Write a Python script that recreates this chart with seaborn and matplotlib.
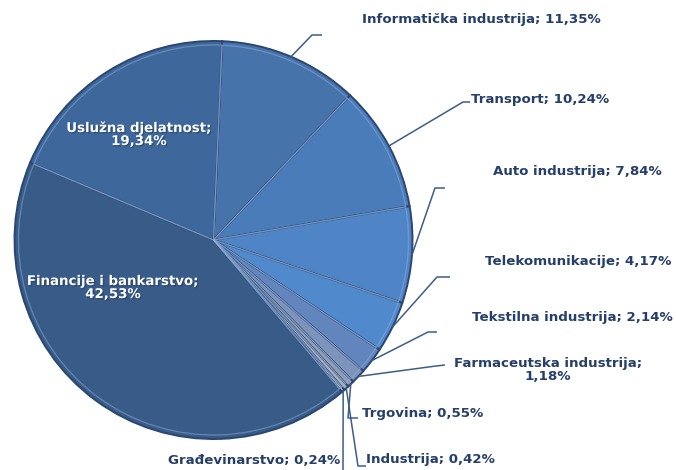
import matplotlib
matplotlib.use("Agg")
import matplotlib.pyplot as plt
import matplotlib.patheffects as pe
import seaborn as sns
import numpy as np

# data (shares in %)
sectors = [
    "Informatička industrija", "Transport", "Auto industrija", "Telekomunikacije",
    "Tekstilna industrija", "Farmaceutska industrija", "Trgovina", "Industrija",
    "Građevinarstvo", "Financije i bankarstvo", "Uslužna djelatnost",
]
shares = [11.35, 10.24, 7.84, 4.17, 2.14, 1.18, 0.55, 0.42, 0.24, 42.53, 19.34]
colors = ["#4773ab", "#4a7cba", "#4f84c6", "#5189cd", "#6285bd", "#7d93b9",
          "#909cb2", "#a7adb9", "#dde1e8", "#395b88", "#3e679b"]

sns.set_theme(style="white")
plt.rcParams["font.family"] = ["DejaVu Sans"]

W, H = 676, 470
fig = plt.figure(figsize=(W / 100, H / 100), dpi=100)
ax = fig.add_axes([0, 0, 1, 1])

def P(x, y):
    # pixel position (from top-left) -> axes data coords
    return x, H - y

cx, cy = P(213.5, 240)
R = 199
start = 87.5

wedges, _ = ax.pie(shares, colors=colors, startangle=start, counterclock=False,
                   radius=R, center=(cx, cy),
                   wedgeprops=dict(edgecolor="#2b4670", linewidth=1.4))
# light inner rim to mimic the bevel
ax.pie(shares, colors=["none"] * len(shares), startangle=start, counterclock=False,
       radius=R - 4, center=(cx, cy),
       wedgeprops=dict(edgecolor="#8fb0dc", linewidth=0.9, alpha=0.5))

ax.set_xlim(0, W)
ax.set_ylim(0, H)
ax.set_aspect("equal")
ax.set_axis_off()

def fmt(v):
    return f"{v:.2f}".replace(".", ",")

# mid angle of each wedge
cum = np.cumsum([0] + shares[:-1])
mids = [start - (c + s / 2) / 100 * 360 for c, s in zip(cum, shares)]

txt_col = "#263f6a"
line_col = "#3d5d88"

# outside labels: leader elbow points and text anchor (pixels)
outside = {
    0: ([(312, 35), (322, 35)], (362, 19), "left"),
    1: ([(463, 102), (470, 102)], (471, 100), "left"),
    2: ([(435, 188), (445, 188)], (493, 172), "left"),
    3: ([(437, 277), (450, 277)], (485, 262), "left"),
    4: ([(428, 332), (437, 332)], (472, 317), "left"),
    5: ([(436, 366), (445, 365)], (548, 370), "center"),
    6: ([(348, 418), (358, 418)], (362, 413), "left"),
    7: ([(358, 466), (366, 466)], (366, 460), "left"),
    8: ([(343, 470)], (340, 461), "right"),
}

for i, (pts, tpos, ha) in outside.items():
    a = np.deg2rad(mids[i])
    sx, sy = cx + R * np.cos(a), cy + R * np.sin(a)
    xs = [sx] + [P(*p)[0] for p in pts]
    ys = [sy] + [P(*p)[1] for p in pts]
    ax.plot(xs, ys, color=line_col, lw=1.1, clip_on=False, solid_capstyle="butt")
    if i == 5:
        label = f"{sectors[i]};\n{fmt(shares[i])}%"
    else:
        label = f"{sectors[i]}; {fmt(shares[i])}%"
    ax.text(*P(*tpos), label, ha=ha, va="center", fontsize=9.6, fontweight="bold",
            color=txt_col, linespacing=1.0)

# inside labels
inside = {9: (113, 288), 10: (139, 135)}
for i, tpos in inside.items():
    ax.text(*P(*tpos), f"{sectors[i]};\n{fmt(shares[i])}%", ha="center", va="center",
            fontsize=9.6, fontweight="bold", color="white", linespacing=1.0,
            path_effects=[pe.withSimplePatchShadow(offset=(1, -1), shadow_rgbFace="#1c2f4d", alpha=0.4)])

fig.savefig("out.png", dpi=100)
